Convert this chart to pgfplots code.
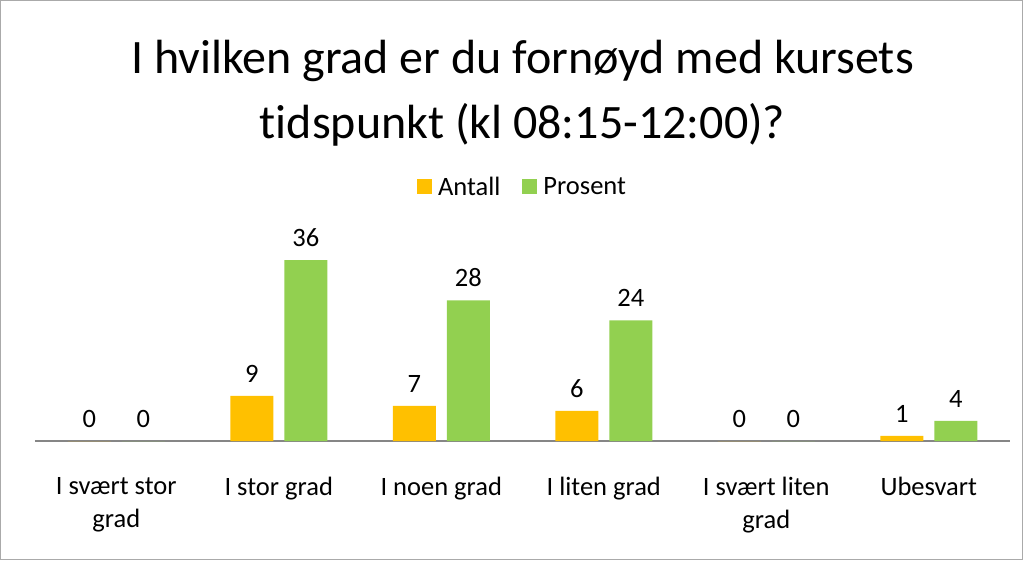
\documentclass[border=0pt]{standalone}
\usepackage{pgfplots}
\pgfplotsset{compat=1.18}
\usepackage{fontspec}
\setmainfont{Carlito}[Ligatures=NoCommon]

\definecolor{antall}{HTML}{FFC000}
\definecolor{prosent}{HTML}{92D050}
\definecolor{axgray}{HTML}{868686}

\begin{document}
\begin{tikzpicture}[x=1pt,y=1pt]
  \useasboundingbox (0,0) rectangle (1023,560);
  \draw[axgray!70, line width=1.2pt] (0.6,0.6) rectangle (1022.4,559.4);
  \begin{axis}[
    at={(35pt,119pt)}, anchor=south west,
    scale only axis,
    width=975pt, height=201pt,
    ybar=11pt, bar width=43pt,
    xmin=-0.5, xmax=5.5,
    ymin=0, ymax=40,
    xtick=data,
    xticklabels={I svært stor\\grad, I stor grad, I noen grad, I liten grad, I svært liten\\grad, Ubesvart},
    xticklabel style={align=center, font=\fontsize{26.5}{33}\selectfont, yshift=-33pt},
    major tick length=0pt,
    ytick=\empty,
    axis x line*=bottom,
    axis y line=none,
    x axis line style={axgray, line width=1.4pt, -},
    nodes near coords,
    /pgf/number format/assume math mode=true,
    every node near coord/.append style={font=\fontsize{26.5}{30}\selectfont, black, yshift=10pt},
    legend style={at={(0.5,1.264)}, anchor=center, draw=none, fill=none,
      font=\fontsize{26.5}{30}\selectfont, legend columns=2,
      /tikz/every odd column/.append style={column sep=4pt},
      /tikz/every even column/.append style={column sep=20pt}},
    legend image code/.code={\fill[#1] (0pt,-7.5pt) rectangle (15pt,7.5pt);},
    clip=false,
  ]
    \addplot[fill=antall, draw=none] coordinates {(0,0) (1,9) (2,7) (3,6) (4,0) (5,1)};
    \addlegendentry{Antall}
    \addplot[fill=prosent, draw=none] coordinates {(0,0) (1,36) (2,28) (3,24) (4,0) (5,4)};
    \addlegendentry{Prosent}
    \node[align=center, font=\fontsize{48}{65}\selectfont] at (axis description cs:0.5,1.73)
      {I hvilken grad er du fornøyd med kursets\\tidspunkt (kl 08:15-12:00)?};
  \end{axis}
\end{tikzpicture}
\end{document}
